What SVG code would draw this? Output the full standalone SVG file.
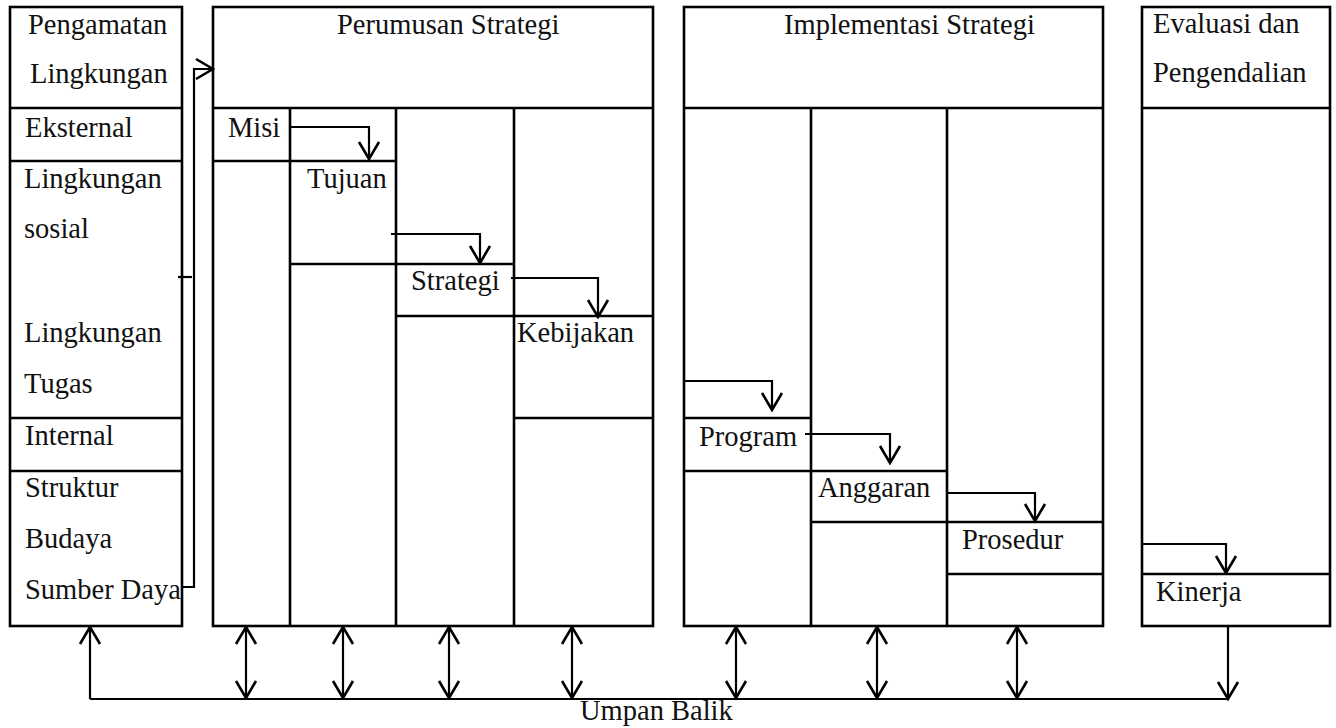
<svg xmlns="http://www.w3.org/2000/svg" width="1336" height="728" viewBox="0 0 1336 728">
  <style>
    .box { fill: none; stroke: #000; stroke-width: 2.6; }
    .rule { stroke: #000; stroke-width: 2.6; fill: none; }
    .lbl { font-family: "Liberation Serif", "Times New Roman", serif; font-size: 28.5px; fill: #111; }
    .con { fill: none; stroke: #000; stroke-width: 2.2; }
  </style>
  <defs>
    <marker id="vee" viewBox="-19 -12 21 24" refX="0" refY="0" markerWidth="21" markerHeight="24" markerUnits="userSpaceOnUse" orient="auto-start-reverse">
      <path d="M-17,-10 L0,0 L-17,10" fill="none" stroke="#000" stroke-width="2.6"/>
    </marker>
  </defs>
  <rect width="1336" height="728" fill="#fff"/>

  <!-- Environmental scanning column -->
  <g id="pengamatan-lingkungan">
    <rect class="box" x="10" y="7" width="172" height="619"/>
    <path class="rule" d="M10,108 H182 M10,161 H182 M10,418 H182 M10,471 H182"/>
    <text class="lbl" x="28" y="34">Pengamatan</text>
    <text class="lbl" x="30" y="83">Lingkungan</text>
    <text class="lbl" x="25" y="137">Eksternal</text>
    <text class="lbl" x="24" y="188">Lingkungan</text>
    <text class="lbl" x="24" y="238">sosial</text>
    <text class="lbl" x="24" y="342">Lingkungan</text>
    <text class="lbl" x="24" y="393">Tugas</text>
    <text class="lbl" x="25" y="445">Internal</text>
    <text class="lbl" x="25" y="497">Struktur</text>
    <text class="lbl" x="25" y="548">Budaya</text>
    <text class="lbl" x="25" y="599">Sumber Daya</text>
  </g>

  <!-- Strategy formulation column -->
  <g id="perumusan-strategi">
    <rect class="box" x="213" y="7" width="440" height="619"/>
    <path class="rule" d="M213,108 H653 M290,108 V626 M396,108 V626 M514,108 V626"/>
    <text class="lbl" x="337" y="34">Perumusan Strategi</text>
  </g>
  <g id="misi">
    <path class="rule" d="M213,161 H290"/>
    <text class="lbl" x="228" y="137">Misi</text>
  </g>
  <g id="tujuan">
    <path class="rule" d="M290,161 H396 M290,264 H396"/>
    <text class="lbl" x="307" y="188">Tujuan</text>
  </g>
  <g id="strategi">
    <path class="rule" d="M396,264 H514 M396,316 H514"/>
    <text class="lbl" x="411" y="290">Strategi</text>
  </g>
  <g id="kebijakan">
    <path class="rule" d="M514,316 H653 M514,418 H653"/>
    <text class="lbl" x="517" y="342">Kebijakan</text>
  </g>

  <!-- Strategy implementation column -->
  <g id="implementasi-strategi">
    <rect class="box" x="684" y="7" width="419" height="619"/>
    <path class="rule" d="M684,108 H1103 M811,108 V626 M947,108 V626"/>
    <text class="lbl" x="784" y="34">Implementasi Strategi</text>
  </g>
  <g id="program">
    <path class="rule" d="M684,418 H811 M684,471 H811"/>
    <text class="lbl" x="699" y="446">Program</text>
  </g>
  <g id="anggaran">
    <path class="rule" d="M811,471 H947 M811,522 H947"/>
    <text class="lbl" x="818" y="497">Anggaran</text>
  </g>
  <g id="prosedur">
    <path class="rule" d="M947,522 H1103 M947,574 H1103"/>
    <text class="lbl" x="962" y="549">Prosedur</text>
  </g>

  <!-- Evaluation and control column -->
  <g id="evaluasi-pengendalian">
    <rect class="box" x="1142" y="7" width="188" height="619"/>
    <path class="rule" d="M1142,108 H1330"/>
    <text class="lbl" x="1153" y="33">Evaluasi dan</text>
    <text class="lbl" x="1153" y="82">Pengendalian</text>
  </g>
  <g id="kinerja">
    <path class="rule" d="M1142,574 H1330"/>
    <text class="lbl" x="1156" y="601">Kinerja</text>
  </g>

  <!-- Feedback label -->
  <g id="umpan-balik">
    <text class="lbl" x="580" y="720">Umpan Balik</text>
  </g>

  <!-- Connectors -->
  <g id="connectors">
    <path class="con" d="M182,587 H194 V69 H213" marker-end="url(#vee)"/>
    <path class="con" d="M178,277 H192"/>
    <path class="con" d="M290,127 H369 V159" marker-end="url(#vee)"/>
    <path class="con" d="M391,234 H480 V263" marker-end="url(#vee)"/>
    <path class="con" d="M511,278 H598 V317" marker-end="url(#vee)"/>
    <path class="con" d="M684,381 H772 V410" marker-end="url(#vee)"/>
    <path class="con" d="M805,434 H890 V463" marker-end="url(#vee)"/>
    <path class="con" d="M947,493 H1035 V521" marker-end="url(#vee)"/>
    <path class="con" d="M1143,544 H1226 V573" marker-end="url(#vee)"/>
    <path class="con" d="M1228,626 V699" marker-end="url(#vee)"/>
    <path class="con" d="M90,699 H1228"/>
    <path class="con" d="M90,699 V627" marker-end="url(#vee)"/>
    <path class="con" d="M246,627 V698" marker-start="url(#vee)" marker-end="url(#vee)"/>
    <path class="con" d="M343,627 V698" marker-start="url(#vee)" marker-end="url(#vee)"/>
    <path class="con" d="M449,627 V698" marker-start="url(#vee)" marker-end="url(#vee)"/>
    <path class="con" d="M572,627 V698" marker-start="url(#vee)" marker-end="url(#vee)"/>
    <path class="con" d="M736,627 V698" marker-start="url(#vee)" marker-end="url(#vee)"/>
    <path class="con" d="M877,627 V698" marker-start="url(#vee)" marker-end="url(#vee)"/>
    <path class="con" d="M1017,627 V698" marker-start="url(#vee)" marker-end="url(#vee)"/>
  </g>
</svg>
